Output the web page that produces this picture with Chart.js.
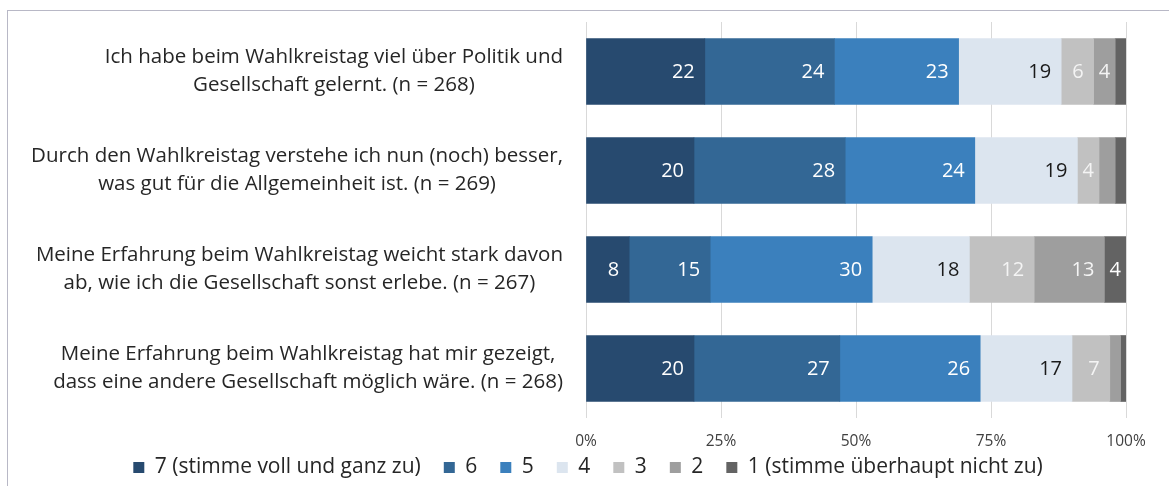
<!DOCTYPE html>
<html>
<head>
<meta charset="utf-8">
<script src="https://cdn.jsdelivr.net/npm/chart.js@4.4.0/dist/chart.umd.min.js"></script>
<style>
    html, body { margin: 0; padding: 0; background: #fff; }
    #wrap { position: relative; width: 1169px; height: 486px; }
    #frame { position: absolute; left: 7px; top: 10px; right: 0; bottom: 0; border-left: 1px solid #b8b8c6; border-top: 1px solid #b8b8c6; }
    #chart { position: absolute; left: 0; top: 0; }
</style>
</head>
<body>
<div id="wrap">
    <div id="frame"></div>
    <canvas id="chart" width="1169" height="486"></canvas>
</div>
<script>
// Kategorien (zweizeilig wie im Original)
var categories = [
    ["Ich habe beim Wahlkreistag viel über Politik und", "Gesellschaft gelernt. (n = 268)"],
    ["Durch den Wahlkreistag verstehe ich nun (noch) besser,", "was gut für die Allgemeinheit ist. (n = 269)"],
    ["Meine Erfahrung beim Wahlkreistag weicht stark davon", "ab, wie ich die Gesellschaft sonst erlebe. (n = 267)"],
    ["Meine Erfahrung beim Wahlkreistag hat mir gezeigt,", "dass eine andere Gesellschaft möglich wäre. (n = 268)"]
];

var seriesNames = ["7 (stimme voll und ganz zu)", "6", "5", "4", "3", "2", "1 (stimme überhaupt nicht zu)"];

// Prozentwerte je Antwortstufe
var v7 = [22, 20, 8, 20];
var v6 = [24, 28, 15, 27];
var v5 = [23, 24, 30, 26];
var v4 = [19, 19, 18, 17];
var v3 = [6, 4, 12, 7];
var v2 = [4, 3, 13, 2];
var v1 = [2, 2, 4, 1];

var tickValues = [0, 25, 50, 75, 100];
var tickLabels = ["0%", "25%", "50%", "75%", "100%"];

var colors = ["#274a6f", "#336795", "#3b80bd", "#dce5ef", "#c1c1c1", "#9e9e9e", "#636363"];
var labelColors = ["#ffffff", "#ffffff", "#ffffff", "#1a1a1a", "#f4f4f4", "#f4f4f4", "#ffffff"];

var FONT = "'Open Sans'";
var allValues = [v7, v6, v5, v4, v3, v2, v1];

var datasets = [];
for (var i = 0; i < seriesNames.length; i++) {
    datasets.push({
        label: seriesNames[i],
        data: allValues[i],
        backgroundColor: colors[i],
        borderWidth: 0,
        barThickness: 66
    });
}

// Werte in die Balken schreiben (nur ab 4 %)
var valueLabels = {
    id: "valueLabels",
    afterDatasetsDraw: function(chart) {
        var ctx = chart.ctx;
        ctx.save();
        ctx.font = "20px " + FONT;
        ctx.textBaseline = "middle";
        ctx.textAlign = "center";
        chart.data.datasets.forEach(function(ds, di) {
            var meta = chart.getDatasetMeta(di);
            meta.data.forEach(function(bar, idx) {
                var val = ds.data[idx];
                if (val < 4) return;
                var txt = String(val);
                var w = ctx.measureText(txt).width;
                var left = bar.base, right = bar.x;
                var x = right - 10 - w / 2;
                if (x - w / 2 < left + 3) x = (left + right) / 2;
                ctx.fillStyle = labelColors[di];
                ctx.fillText(txt, x, bar.y + 1);
            });
        });
        ctx.restore();
    }
};

// Kategorie-Beschriftung: Block rechtsbündig, Zeilen zentriert; dazu die %-Achse
var axisLabels = {
    id: "axisLabels",
    afterDraw: function(chart) {
        var ctx = chart.ctx;
        var yScale = chart.scales.y;
        var xScale = chart.scales.x;
        var rightEdge = chart.chartArea.left - 23;
        ctx.save();
        ctx.font = "20.5px " + FONT;
        ctx.fillStyle = "#262626";
        ctx.textBaseline = "middle";
        ctx.textAlign = "center";
        categories.forEach(function(lines, i) {
            var widest = 0;
            lines.forEach(function(l) { widest = Math.max(widest, ctx.measureText(l).width); });
            var cx = rightEdge - widest / 2;
            var cy = yScale.getPixelForValue(i);
            var lh = 28;
            lines.forEach(function(l, k) {
                ctx.fillText(l, cx, cy + (k - (lines.length - 1) / 2) * lh);
            });
        });

        ctx.font = "15.5px " + FONT;
        ctx.fillStyle = "#404040";
        tickValues.forEach(function(v, k) {
            ctx.fillText(tickLabels[k], xScale.getPixelForValue(v), chart.chartArea.bottom + 24);
        });
        ctx.restore();
    }
};

new Chart(document.getElementById("chart"), {
    type: "bar",
    data: { labels: categories.map(function(c) { return c.join(" "); }), datasets: datasets },
    plugins: [valueLabels, axisLabels],
    options: {
        indexAxis: "y",
        responsive: false,
        animation: false,
        layout: { padding: { left: 50, right: 43, top: 22, bottom: -2 } },
        scales: {
            x: {
                stacked: true,
                min: 0,
                max: 100,
                afterBuildTicks: function(scale) {
                    scale.ticks = tickValues.map(function(v) { return { value: v }; });
                },
                afterFit: function(scale) { scale.height = 16; },
                ticks: { display: false },
                grid: { color: "#d9d9d9", drawTicks: false },
                border: { display: false }
            },
            y: {
                stacked: true,
                ticks: { display: false },
                grid: { display: false },
                border: { display: false },
                afterFit: function(scale) { scale.width = 536; }
            }
        },
        plugins: {
            legend: {
                position: "bottom",
                labels: {
                    boxWidth: 11,
                    boxHeight: 11,
                    padding: 23,
                    color: "#262626",
                    font: { family: FONT, size: 21 }
                }
            },
            tooltip: { enabled: false }
        }
    }
});
</script>
</body>
</html>
